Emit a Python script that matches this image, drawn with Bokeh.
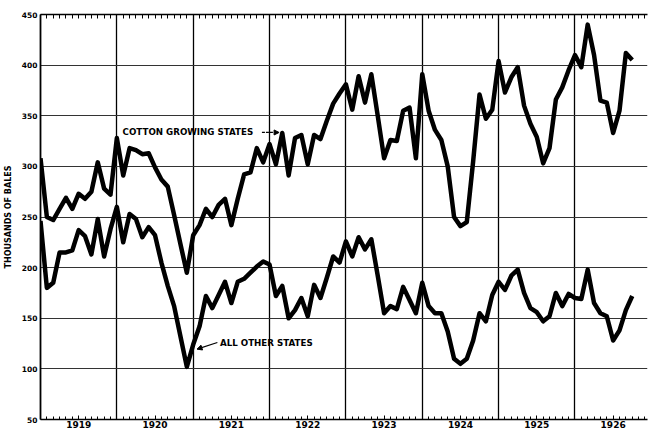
from bokeh.plotting import figure
from bokeh.models import Range1d, FixedTicker, LinearAxis, Arrow, NormalHead, Label, ColumnDataSource
from bokeh.embed import file_html
from bokeh.resources import INLINE

# Monthly sales, thousands of bales, Jan 1919 .. Oct 1926 (month index 0 = Jan 1919)
cotton = [308, 250, 247, 258, 269, 258, 273, 268, 275, 304, 278, 272,
          328, 291, 318, 316, 312, 313, 299, 287, 280, 252, 223, 195,
          232, 242, 258, 250, 262, 268, 242, 268, 292, 294, 318, 304,
          322, 302, 333, 291, 328, 331, 302, 331, 327, 345, 362, 372,
          381, 356, 389, 363, 391, 350, 308, 326, 325, 355, 358, 308,
          391, 355, 336, 326, 300, 250, 241, 245, 305, 371, 347, 356,
          404, 373, 388, 398, 360, 342, 329, 303, 318, 366, 378, 395,
          410, 398, 440, 410, 365, 363, 333, 355, 412, 405]
other = [246, 180, 185, 215, 215, 217, 237, 231, 213, 248, 211, 238,
         260, 225, 253, 248, 230, 240, 232, 205, 182, 162, 132, 102,
         124, 142, 172, 160, 173, 186, 165, 186, 189, 195, 201, 206,
         203, 172, 182, 150, 158, 170, 152, 183, 170, 190, 211, 205,
         226, 211, 230, 218, 228, 192, 155, 162, 159, 181, 168, 155,
         185, 162, 155, 155, 137, 110, 105, 110, 128, 155, 147, 173,
         186, 178, 192, 198, 175, 160, 156, 147, 152, 175, 162, 174,
         170, 169, 198, 165, 155, 152, 128, 138, 158, 172]
months = list(range(len(cotton)))

years = ["1919", "1920", "1921", "1922", "1923", "1924", "1925", "1926"]
year_mid = [6 + 12 * k for k in range(len(years))]
year_start = [12 * k for k in range(1, len(years))]
y_ticks = [50, 100, 150, 200, 250, 300, 350, 400, 450]
y_grid = [100, 150, 200, 250, 300, 350, 400]
all_months = list(range(0, 96))

FONT = "DejaVu Sans"

p = figure(frame_width=607, frame_height=405, output_backend="svg", toolbar_location=None,
           x_range=Range1d(0, 95.4), y_range=Range1d(50, 450),
           min_border_left=33, min_border_right=1, min_border_top=14, min_border_bottom=11)
p.outline_line_color = None
p.background_fill_color = "white"
p.border_fill_color = "white"

# bottom axis
xa = p.xaxis[0]
xa.ticker = FixedTicker(ticks=year_mid, minor_ticks=all_months)
xa.major_label_overrides = {m: y for m, y in zip(year_mid, years)}
xa.major_tick_in = 4
xa.major_tick_out = 0
xa.minor_tick_in = 3
xa.minor_tick_out = 0
xa.axis_line_width = 1.6
xa.axis_line_color = "black"
xa.major_tick_line_color = "black"
xa.minor_tick_line_color = "black"
xa.major_label_standoff = 1
xa.major_label_text_font = FONT
xa.major_label_text_font_style = "bold"
xa.major_label_text_font_size = "9px"
xa.major_label_text_color = "black"

# left axis
ya = p.yaxis[0]
ya.ticker = FixedTicker(ticks=y_ticks)
ya.major_tick_in = 0
ya.major_tick_out = 0
ya.minor_tick_in = 0
ya.minor_tick_out = 0
ya.axis_line_width = 1.8
ya.axis_line_color = "black"
ya.major_label_standoff = 3
ya.major_label_text_font = FONT
ya.major_label_text_font_style = "bold"
ya.major_label_text_font_size = "7.5px"
ya.major_label_text_color = "black"
ya.axis_label = "THOUSANDS OF BALES"
ya.axis_label_text_font = FONT
ya.axis_label_text_font_style = "bold"
ya.axis_label_text_font_size = "8px"
ya.axis_label_text_color = "black"
ya.axis_label_standoff = 6

# top axis: monthly ticks only (as minor ticks)
top = LinearAxis(ticker=FixedTicker(ticks=[], minor_ticks=all_months), major_tick_in=0, major_tick_out=0,
                 minor_tick_in=4, minor_tick_out=0, axis_line_width=1.6, axis_line_color="black",
                 minor_tick_line_color="black", major_label_standoff=0)
p.add_layout(top, "above")

# grids
p.xgrid.ticker = FixedTicker(ticks=year_start)
p.xgrid.grid_line_color = "black"
p.xgrid.grid_line_width = 1.3
p.ygrid.ticker = FixedTicker(ticks=y_grid)
p.ygrid.grid_line_color = "#333333"
p.ygrid.grid_line_width = 1.1

src = ColumnDataSource(dict(m=months, cotton=cotton, other=other))
p.line("m", "cotton", source=src, line_width=4.5, line_color="black", line_join="round")
p.line("m", "other", source=src, line_width=4.5, line_color="black", line_join="round")

# annotations
p.add_layout(Label(x=12.9, y=333.5, text="COTTON GROWING STATES", text_font=FONT,
                   text_font_style="bold", text_font_size="8.7px", text_baseline="middle",
                   text_align="left", text_color="black"))
p.add_layout(Arrow(end=NormalHead(size=5, fill_color="black", line_color="black"),
                   x_start=34.8, y_start=333.5, x_end=37.5, y_end=333.5,
                   line_width=1.2, line_color="black", line_dash="3 1"))
p.add_layout(Label(x=28.2, y=125.5, text="ALL OTHER STATES", text_font=FONT,
                   text_font_style="bold", text_font_size="8.7px", text_baseline="middle",
                   text_align="left", text_color="black"))
p.add_layout(Arrow(end=NormalHead(size=5, fill_color="black", line_color="black"),
                   x_start=27.8, y_start=126, x_end=24.6, y_end=119.5,
                   line_width=1.2, line_color="black"))

open("out.html", "w").write(file_html(p, INLINE))
